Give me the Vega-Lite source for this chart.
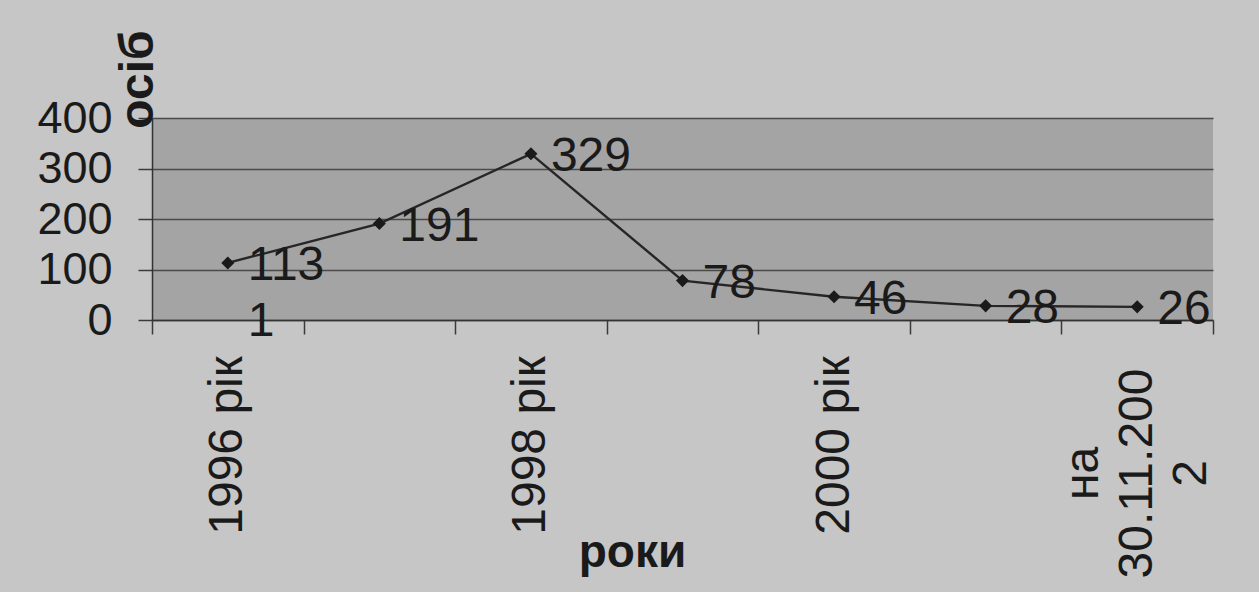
{
  "$schema": "https://vega.github.io/schema/vega-lite/v6.json",
  "width": 1061,
  "height": 202,
  "autosize": {"type": "none"},
  "padding": {"left": 152, "top": 118, "right": 46, "bottom": 272},
  "background": "#c6c6c6",
  "config": {
    "view": {"fill": "#a4a4a4", "stroke": null},
    "font": "Liberation Sans"
  },
  "data": {
    "values": [
      {"year": "1996 рік", "value": 113, "label": "113", "series": "main"},
      {"year": "1997 рік", "value": 191, "label": "191", "series": "main"},
      {"year": "1998 рік", "value": 329, "label": "329", "series": "main"},
      {"year": "1999 рік", "value": 78, "label": "78", "series": "main"},
      {"year": "2000 рік", "value": 46, "label": "46", "series": "main"},
      {"year": "2001 рік", "value": 28, "label": "28", "series": "main"},
      {"year": "на 30.11.2002", "value": 26, "label": "26", "series": "main"},
      {"year": "1996 рік", "value": 1, "label": "1", "series": "other"}
    ]
  },
  "encoding": {
    "x": {
      "field": "year",
      "type": "nominal",
      "bandPosition": 0.5,
      "scale": {
        "type": "band",
        "domain": ["1996 рік", "1997 рік", "1998 рік", "1999 рік", "2000 рік", "2001 рік", "на 30.11.2002"],
        "paddingInner": 0,
        "paddingOuter": 0
      },
      "axis": {
        "title": "роки",
        "titleFontSize": 46,
        "titleFontWeight": "bold",
        "titleColor": "#1a1a1a",
        "titleX": 480,
        "titleY": 232,
        "titleAlign": "center",
        "titleBaseline": "middle",
        "labelAngle": -90,
        "labelAlign": "center",
        "labelBaseline": "middle",
        "labelPadding": {"condition": {"test": "datum.value == 'на 30.11.2002'", "value": 139}, "value": 111},
        "labelOffset": {"condition": {"test": "datum.value == 'на 30.11.2002'", "value": -54}, "value": 0},
        "labelFontSize": 48,
        "labelLineHeight": 54,
        "labelLimit": 0,
        "labelColor": "#1a1a1a",
        "labelOverlap": false,
        "labelBound": false,
        "labelFlush": false,
        "labelExpr": "datum.value == 'на 30.11.2002' ? ['на', '30.11.200', '2'] : (datum.value == '1996 рік' || datum.value == '1998 рік' || datum.value == '2000 рік') ? datum.value : ''",
        "tickBand": "extent",
        "tickSize": 14,
        "tickColor": "#3a3a3a",
        "tickWidth": 1.5,
        "domainColor": "#333333",
        "domainWidth": 1.5,
        "grid": false
      }
    },
    "y": {
      "field": "value",
      "type": "quantitative",
      "scale": {"domain": [0, 400], "nice": false},
      "axis": {
        "title": "осіб",
        "titleAngle": -90,
        "titleX": -14,
        "titleY": -39,
        "titleAlign": "center",
        "titleBaseline": "middle",
        "titleFontSize": 48,
        "titleFontWeight": "bold",
        "titleColor": "#1a1a1a",
        "values": [0, 100, 200, 300, 400],
        "labelFontSize": 45,
        "labelColor": "#1a1a1a",
        "labelPadding": 26,
        "labelFlush": false,
        "labelBound": false,
        "labelOverlap": false,
        "tickSize": 14,
        "tickColor": "#3a3a3a",
        "tickWidth": 1.5,
        "grid": true,
        "gridColor": "#4a4a4a",
        "gridWidth": 1.6,
        "domainColor": "#333333",
        "domainWidth": 1.5
      }
    }
  },
  "layer": [
    {
      "transform": [{"filter": "datum.series == 'main'"}],
      "mark": {
        "type": "line",
        "color": "#262626",
        "strokeWidth": 2.4,
        "point": {"shape": "diamond", "size": 170, "filled": true, "color": "#1a1a1a"}
      }
    },
    {
      "mark": {
        "type": "text",
        "align": "left",
        "baseline": "middle",
        "dx": 20,
        "dy": 3,
        "fontSize": 48,
        "color": "#1a1a1a"
      },
      "encoding": {"text": {"field": "label"}}
    }
  ]
}
